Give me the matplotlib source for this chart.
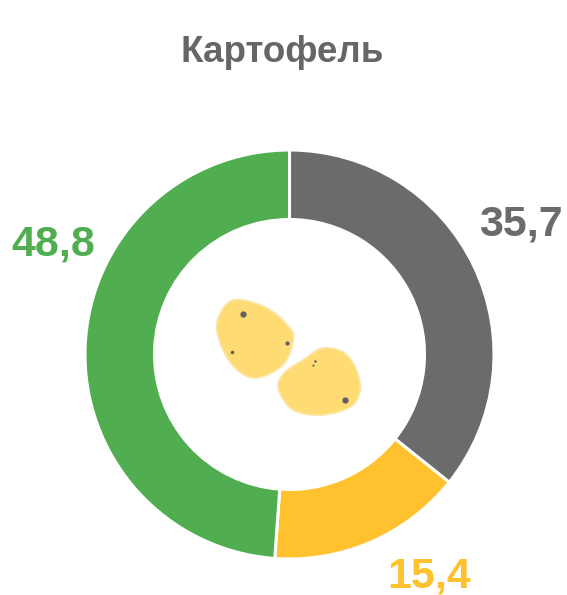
import matplotlib
matplotlib.use('Agg')
import matplotlib.pyplot as plt
from matplotlib.patches import PathPatch
from matplotlib.path import Path
import numpy as np

plt.rcParams['font.family'] = ['Liberation Sans', 'DejaVu Sans']

title = 'Картофель'
values = [35.7, 15.4, 48.8]
labels = ['35,7', '15,4', '48,8']
colors = ['#6b6b6b', '#ffc12e', '#50ae50']
label_px = [(521, 224), (429, 576), (53, 244)]

# potato outlines and their spots, in picture pixels
potato_a = [(217, 322), (233, 300), (267, 308), (290, 328), (293, 342), (283, 365), (257, 378), (237, 370), (222, 348)]
potato_b = [(278, 388), (285, 372), (303, 360), (323, 348), (347, 355), (360, 382), (353, 405), (323, 415), (293, 410)]
spots = [(243, 314, 3), (287, 343, 2), (232, 352, 1.7), (315, 361, 1.2), (313, 365, 1), (345, 400, 3)]

W, H = 567, 595
fig = plt.figure(figsize=(W / 100, H / 100), dpi=100)
ax = fig.add_axes([0, 0, 1, 1])

# y axis is flipped to work in pixels, so the pie runs the other way round
ax.pie(values, colors=colors, startangle=-90, counterclock=True, center=(289.5, 354.5), radius=204.5,
       wedgeprops=dict(width=69.5, edgecolor='white', linewidth=2.2), frame=True)
ax.set_xlim(0, W)
ax.set_ylim(H, 0)
ax.set_aspect('equal')
ax.axis('off')


def blob(pts):
    # closed smooth outline through the points (catmull-rom to bezier)
    pts = np.array(pts, dtype=float)
    n = len(pts)
    verts = [pts[0]]
    codes = [Path.MOVETO]
    for i in range(n):
        p0, p1, p2, p3 = pts[i - 1], pts[i], pts[(i + 1) % n], pts[(i + 2) % n]
        verts += [p1 + (p2 - p0) / 6, p2 - (p3 - p1) / 6, p2]
        codes += [Path.CURVE4, Path.CURVE4, Path.CURVE4]
    return Path(verts, codes)


for outline in (potato_a, potato_b):
    ax.add_patch(PathPatch(blob(outline), facecolor='#ffdc73', edgecolor='#fbe7ae', linewidth=1.2))
for x, y, r in spots:
    ax.plot(x, y, 'o', color='#5f6064', markersize=r * 1.5, markeredgewidth=0)

ax.text(282, 52, title, ha='center', va='center', fontsize=26.5, fontweight='bold', color='#666666')
for lab, c, (x, y) in zip(labels, colors, label_px):
    ax.text(x, y, lab, ha='center', va='center', fontsize=31, fontweight='bold', color=c)

fig.savefig('out.png', dpi=100)
